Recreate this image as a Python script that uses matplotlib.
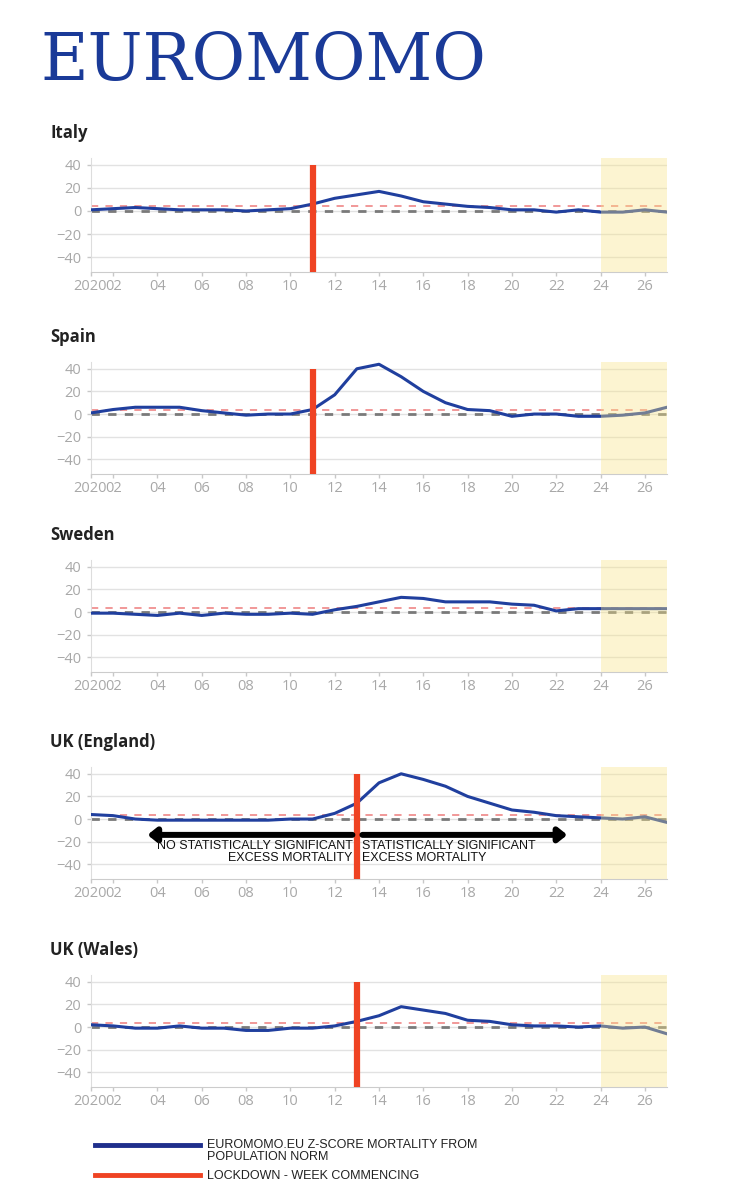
import matplotlib
matplotlib.use("Agg")
from matplotlib import pyplot as plt
from matplotlib.lines import Line2D
from matplotlib.transforms import ScaledTranslation

# weeks of 2020
weeks = list(range(1, 28))

italy = [1, 2, 3, 2, 1, 1, 1, 0, 1, 2, 6, 11, 14, 17, 13, 8, 6, 4, 3, 1, 1, -1, 1, -1, -1, 1, -1]
spain = [1, 4, 6, 6, 6, 3, 1, -1, 0, 0, 4, 17, 40, 44, 33, 20, 10, 4, 3, -2, 0, 0, -2, -2, -1, 1, 6]
sweden = [-1, -1, -2, -3, -1, -3, -1, -2, -2, -1, -2, 2, 5, 9, 13, 12, 9, 9, 9, 7, 6, 1, 3, 3, 3, 3, 3]
england = [4, 3, 0, -1, -1, -1, -1, -1, -1, 0, 0, 5, 14, 32, 40, 35, 29, 20, 14, 8, 6, 3, 2, 1, 0, 2, -3]
wales = [2, 1, -1, -1, 1, -1, -1, -3, -3, -1, -1, 1, 5, 10, 18, 15, 12, 6, 5, 2, 1, 1, 0, 1, -1, 0, -6]

countries = ["Italy", "Spain", "Sweden", "UK (England)", "UK (Wales)"]
series = [italy, spain, sweden, england, wales]
lockdown = [11, 11, None, 13, 13]

xticks = [1, 2, 4, 6, 8, 10, 12, 14, 16, 18, 20, 22, 24, 26]
xlabels = ["", "02", "04", "06", "08", "10", "12", "14", "16", "18", "20", "22", "24", "26"]
year_label = "2020"
yticks = [-40, -20, 0, 20, 40]

W, H = 729, 1200
fig = plt.figure(figsize=(W / 100, H / 100), dpi=100)

blue = "#203f9e"
red = "#ef4323"
tick_grey = "#a8a8a8"
tick_len, tick_pad = 3, 2

# logo
fig.text(40 / W, 1 - 80 / H, "EUROMOMO", family="DejaVu Serif", fontsize=47,
         color="#1a3a98", va="baseline", ha="left")

# panel top/bottom in pixels
panels = [(158, 272), (362, 474), (560, 672), (767, 879), (975, 1087)]
left_px, right_px = 91, 667

for i in range(len(countries)):
    top, bot = panels[i]
    hpx = bot - top
    ax = fig.add_axes([left_px / W, 1 - bot / H, (right_px - left_px) / W, hpx / H])
    fig.text(50 / W, 1 - (top - 25) / H, countries[i], family="Open Sans", fontweight="bold",
             fontsize=12, color="#222222", va="center")

    ax.set_xlim(1, 27)
    ax.set_ylim(-53, 46)
    ax.set_yticks(yticks)
    ax.set_xticks(xticks)
    ax.set_xticklabels(xlabels)
    for t in ax.get_xticklabels() + ax.get_yticklabels():
        t.set_family("Open Sans")
        t.set_fontsize(10.5)
        t.set_color(tick_grey)
    ax.tick_params(axis="both", colors="#c8c8c8", length=tick_len, width=1, labelcolor=tick_grey)
    ax.tick_params(axis="x", pad=tick_pad)
    ax.tick_params(axis="y", pad=4)
    # year label sits right against the "02" label
    off = ScaledTranslation(0, -(tick_len + tick_pad) / 72, fig.dpi_scale_trans)
    ax.text(1.7, 0, year_label, transform=ax.get_xaxis_transform() + off, ha="right", va="top",
            family="Open Sans", fontsize=10.5, color=tick_grey)
    for s in ["top", "right"]:
        ax.spines[s].set_visible(False)
    ax.spines["left"].set_color("#dddddd")
    ax.spines["bottom"].set_color("#cccccc")
    ax.grid(axis="y", color="#e2e2e2", linewidth=1)
    ax.set_axisbelow(True)

    ax.axhline(4, color="#f09090", linestyle=(0, (4, 4)), linewidth=1.3, zorder=2)
    ax.axhline(0, color="#7a7a7a", linestyle=(0, (3, 3)), linewidth=2, zorder=2)
    ax.plot(weeks, series[i], color=blue, linewidth=2.2, zorder=3)

    ax.axvspan(24, 27, color="#f8e486", alpha=0.38, zorder=4, linewidth=0)

    if lockdown[i] is not None:
        ax.vlines(lockdown[i], -53, 40, color=red, linewidth=4.5, zorder=5)

    if countries[i] == "UK (England)":
        arrow = dict(arrowstyle="-|>,head_length=0.5,head_width=0.4",
                     color="black", linewidth=4.3, shrinkA=0, shrinkB=0)
        ax.annotate("", xy=(3.55, -14), xytext=(12.8, -14), arrowprops=arrow, zorder=6)
        ax.annotate("", xy=(22.5, -14), xytext=(13.25, -14), arrowprops=arrow, zorder=6)
        ax.text(12.8, -29.5, "NO STATISTICALLY SIGNIFICANT\nEXCESS MORTALITY", ha="right",
                va="center", family="Liberation Sans", fontsize=9, color="#111111",
                linespacing=1.0, multialignment="right", zorder=6)
        ax.text(13.25, -29.5, "STATISTICALLY SIGNIFICANT\nEXCESS MORTALITY", ha="left",
                va="center", family="Liberation Sans", fontsize=9, color="#111111",
                linespacing=1.0, multialignment="left", zorder=6)

# legend
fig.add_artist(Line2D([95 / W, 200 / W], [1 - 1145 / H, 1 - 1145 / H], color="#1f2f8c",
                      linewidth=3.5, transform=fig.transFigure))
fig.add_artist(Line2D([95 / W, 200 / W], [1 - 1175 / H, 1 - 1175 / H], color=red,
                      linewidth=3.5, transform=fig.transFigure))
fig.text(207 / W, 1 - 1151 / H, "EUROMOMO.EU Z-SCORE MORTALITY FROM\nPOPULATION NORM",
         family="Liberation Sans", fontsize=9, color="#222222", va="center", linespacing=1.0)
fig.text(207 / W, 1 - 1176 / H, "LOCKDOWN - WEEK COMMENCING",
         family="Liberation Sans", fontsize=9, color="#222222", va="center")

fig.savefig("out.png", dpi=100)
